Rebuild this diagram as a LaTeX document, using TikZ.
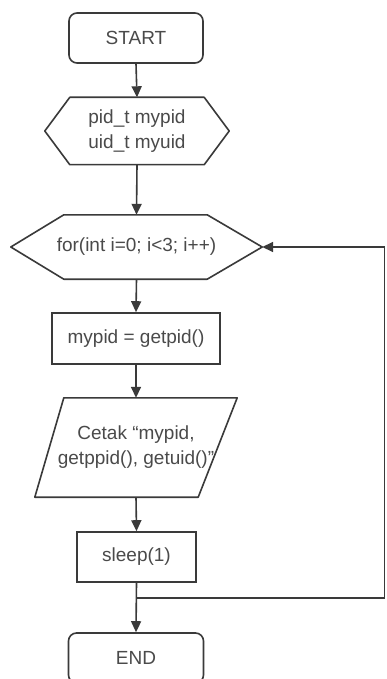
\documentclass[tikz,border=0pt]{standalone}
\usepackage{fontspec}
\setmainfont{Liberation Sans}
\usetikzlibrary{arrows.meta,calc}
\definecolor{ln}{HTML}{3A3A3A}
\definecolor{tx}{HTML}{4A4A4A}
\begin{document}
\begin{tikzpicture}[x=1pt,y=-1pt,
  every node/.style={font=\fontsize{19}{25}\selectfont, text=tx, align=center, inner sep=0pt},
  box/.style={draw=ln, line width=1.6pt},
  term/.style={box, rounded corners=8pt},
  inv/.style={draw=none},
  outline/.style={draw=ln, line width=1.6pt, line join=round},
  arr/.style={draw=ln, line width=1.6pt, -{Triangle[length=11pt,width=10pt]}},
  lnk/.style={draw=ln, line width=1.6pt}]
\useasboundingbox (0,0) rectangle (386,679);
\fill[white] (0,0) rectangle (386,679);

\node[term, minimum width=134, minimum height=50] (start) at (136,38) {START};

\node[inv, minimum width=184, minimum height=67] (h1) at (137,131) {pid\_t mypid\\uid\_t myuid};
\draw[outline] (h1.west) -- ($(h1.north west)+(25,0)$) -- ($(h1.north east)+(-25,0)$) -- (h1.east)
  -- ($(h1.south east)+(-25,0)$) -- ($(h1.south west)+(25,0)$) -- cycle;

\node[inv, minimum width=251, minimum height=64] (h2) at (136.5,247) {for(int i=0; i<3; i++)};
\draw[outline] (h2.west) -- ($(h2.north west)+(53,0)$) -- ($(h2.north east)+(-55,0)$) -- (h2.east)
  -- ($(h2.south east)+(-55,0)$) -- ($(h2.south west)+(53,0)$) -- cycle;

\node[box, minimum width=168, minimum height=51] (r1) at (136,338.5) {mypid = getpid()};

\node[inv, minimum width=202, minimum height=99] (p) at (136,447.5) {Cetak “mypid,\\getppid(), getuid()”};
\draw[outline] ($(p.north west)+(29,0)$) -- (p.north east) -- ($(p.south east)+(-39,0)$) -- (p.south west) -- cycle;

\node[box, minimum width=119, minimum height=50] (s) at (136.5,557) {sleep(1)};

\node[term, minimum width=135, minimum height=50] (e) at (136,658) {END};

\coordinate (j) at (136.5,598);
\coordinate (c1) at (384.5,598);

\draw[arr] (start.south) -- (h1.north);
\draw[arr] (h1.south) -- (h2.north);
\draw[arr] (h2.south) -- (r1.north);
\draw[arr] (r1.south) -- (p.north);
\draw[arr] (p.south) -- (s.north);
\draw[arr] (s.south) -- (e.north);
\draw[arr] (j) -- (c1) |- (h2.east);
\end{tikzpicture}
\end{document}
